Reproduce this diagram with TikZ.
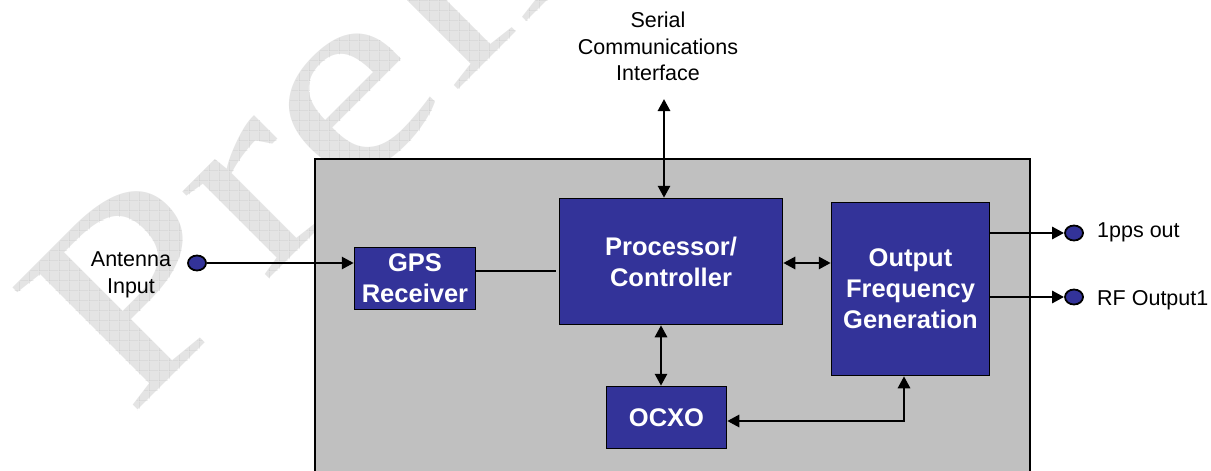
\documentclass[tikz,border=0pt]{standalone}
\usepackage{fontspec}
\setmainfont{Liberation Sans}
\newfontfamily\wmfont{Liberation Serif}
\usetikzlibrary{arrows.meta,shapes.geometric,calc,patterns}
\definecolor{blockblue}{RGB}{51,51,153}
\definecolor{panelgray}{RGB}{192,192,192}
\definecolor{wmgray}{RGB}{228,228,228}
\definecolor{wmline}{RGB}{200,200,200}
% square grid for the watermark lettering
\pgfdeclarepatternformonly{wmgrid}{\pgfpointorigin}{\pgfpoint{10pt}{10pt}}{\pgfpoint{10pt}{10pt}}{%
  \pgfsetlinewidth{0.9pt}%
  \pgfpathmoveto{\pgfpoint{0pt}{0pt}}\pgfpathlineto{\pgfpoint{10pt}{0pt}}%
  \pgfpathmoveto{\pgfpoint{0pt}{0pt}}\pgfpathlineto{\pgfpoint{0pt}{10pt}}%
  \pgfusepath{stroke}}
\tikzset{
  block/.style={draw=black, line width=1.5pt, fill=blockblue, text=white,
    font=\fontsize{25.5}{31}\selectfont\bfseries, align=center, inner sep=0pt},
  port/.style={ellipse, draw=black, line width=1.8pt, fill=blockblue,
    minimum width=18pt, minimum height=15pt, inner sep=0pt},
  lbl/.style={font=\fontsize{21.5}{26.5}\selectfont, align=center, inner sep=0pt},
  sig/.style={line width=2.8pt, -{Triangle[length=12pt,width=12pt]}},
  bus/.style={line width=2.8pt, {Triangle[length=12pt,width=12pt]}-{Triangle[length=12pt,width=12pt]}},
  thinlink/.style={line width=1.3pt},
  wmtext/.style={rotate=45, anchor=base west, inner sep=0pt,
    font=\wmfont\fontsize{267}{267}\selectfont},
}
\begin{document}
\begin{tikzpicture}[x=1pt,y=-1pt]
\useasboundingbox (0,0) rectangle (1211,471);
\clip (0,0) rectangle (1211,471);

% diagonal watermark: solid lettering, then a grid laid over it
\node[wmtext, text=wmgray] (wm) at (129,419) {\scalebox{1.29}[1]{Preliminary}};
\node[wmtext] (wmgridtext) at (129,419)
  {\pgfsetfillpattern{wmgrid}{wmline}\scalebox{1.29}[1]{Preliminary}};

% module outline
\draw[fill=panelgray, line width=1.5pt] (315,159) rectangle (1030,500);

% functional blocks
\node[block, minimum width=121pt, minimum height=62pt] (gps) at (415,278.5) {GPS\\Receiver};
\node[block, minimum width=223pt, minimum height=126pt] (proc) at (671,261.5) {Processor/\\Controller};
\node[block, minimum width=158pt, minimum height=173pt] (ofg) at (910.5,289) {Output\\Frequency\\Generation};
\node[block, minimum width=120pt, minimum height=62pt] (ocxo) at (666.5,417.5) {OCXO};

% connectors on the module edge
\node[port] (ant) at (197,263) {};
\node[port] (pps) at (1074,233) {};
\node[port] (rf) at (1074,297) {};

% labels
\node[lbl] (antlbl) at (131,275) {Antenna\\Input};
\node[lbl] (serlbl) at (658,46.6) {Serial\\Communications\\Interface};
\node[lbl, anchor=base west] (ppslbl) at (1097,237) {1pps out};
\node[lbl, anchor=base west] (rflbl) at (1097,305) {RF Output1};

% link end points
\coordinate (sertip) at (664,99);
\coordinate (gpsout) at ([yshift=7.5pt]gps.east);
\coordinate (procdn) at ([xshift=-10pt]proc.south);
\coordinate (procrt) at ([yshift=-1.5pt]proc.east);
\coordinate (ocxort) at ([yshift=-3.5pt]ocxo.east);
\coordinate (ofgdn) at ([xshift=-6.5pt]ofg.south);

% links
\draw[sig] (ant.east) -- (ant -| gps.west);
\draw[thinlink, shorten >=3pt] (gpsout) -- (gpsout -| proc.west);
\draw[bus] (sertip) -- (sertip |- proc.north);
\draw[bus] (procdn) -- (procdn |- ocxo.north);
\draw[bus] (procrt) -- (procrt -| ofg.west);
\draw[bus] (ocxort) -| (ofgdn);
\draw[sig] (pps -| ofg.east) -- (pps.west);
\draw[sig] (rf -| ofg.east) -- (rf.west);
\end{tikzpicture}
\end{document}
